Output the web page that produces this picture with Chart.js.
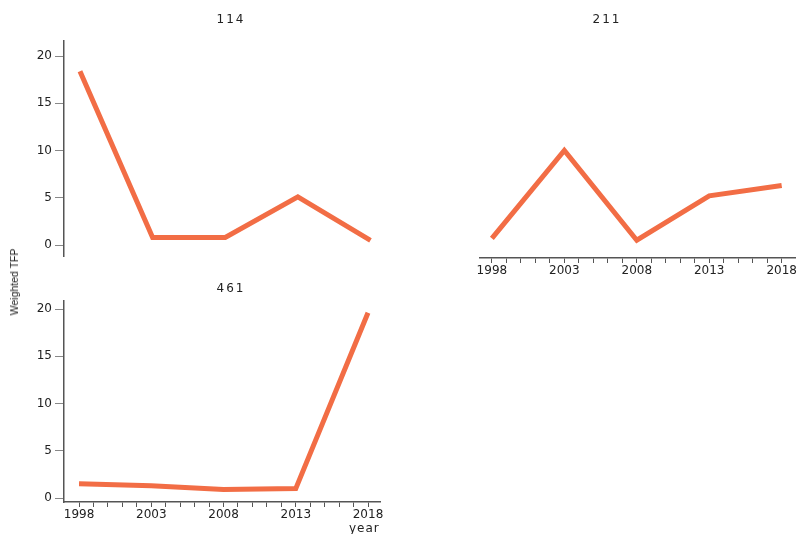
<!DOCTYPE html>
<html>
<head>
<meta charset="utf-8">
<script src="https://cdn.jsdelivr.net/npm/chart.js@4.4.1/dist/chart.umd.min.js"></script>
<style>
  html, body { margin: 0; padding: 0; background: #fff; }
  #wrap { position: relative; width: 798px; height: 534px; overflow: hidden; }
  #wrap canvas { position: absolute; left: 0; top: 0; }
  .lbl { position: absolute; font-family: "DejaVu Sans", sans-serif; color: #222; white-space: nowrap; line-height: 12px; }
  .title { font-size: 12px; letter-spacing: 2px; transform: translateX(-50%); }
  #ylab { font-family: "Liberation Sans", sans-serif; font-size: 10.5px; left: 14px; top: 282px;
          transform: translate(-50%, -50%) rotate(-90deg); }
  #xlab { font-size: 12px; letter-spacing: 1px; left: 349px; top: 522px; }
</style>
</head>
<body>
<div id="wrap">
  <canvas id="c114" width="798" height="534"></canvas>
  <canvas id="c211" width="798" height="534"></canvas>
  <canvas id="c461" width="798" height="534"></canvas>
  <div class="lbl title" style="left:231px; top:13px;">114</div>
  <div class="lbl title" style="left:607px; top:13px;">211</div>
  <div class="lbl title" style="left:231px; top:282px;">461</div>
  <div class="lbl" id="ylab">Weighted TFP</div>
  <div class="lbl" id="xlab">year</div>
</div>
<script>
// years sampled every five years, one series per industry code
const years = [1998, 2003, 2008, 2013, 2018];
const tfp114 = [18.4, 0.8, 0.8, 5.1, 0.5];
const tfp211 = [0.7, 10.0, 0.5, 5.2, 6.3];
const tfp461 = [1.5, 1.3, 0.9, 1.0, 19.6];
const yTicks = [0, 5, 10, 15, 20];
const yearTicks = [];
for (let y = 1998; y <= 2018; y++) yearTicks.push(y);

const lineColor = '#F26D45';
const axisColor = '#555';
const tickFont = { family: 'DejaVu Sans', size: 12 };

function xScale(show, min, max) {
  return {
    type: 'linear', min: min, max: max, display: show,
    afterBuildTicks: s => { s.ticks = yearTicks.map(v => ({ value: v })); },
    afterFit: s => { if (show) s.height = 26; },
    ticks: {
      autoSkip: false, maxRotation: 0, padding: 1, color: '#222', font: tickFont,
      callback: v => ((v - 1998) % 5 === 0 ? String(v) : '')
    },
    grid: { drawOnChartArea: false, drawTicks: true, tickLength: 5, color: axisColor, lineWidth: 1 },
    border: { display: true, color: axisColor, width: 1.5 }
  };
}

function yScale(show, min, max) {
  return {
    type: 'linear', min: min, max: max, display: show,
    afterBuildTicks: s => { s.ticks = yTicks.map(v => ({ value: v })); },
    afterFit: s => { if (show) s.width = 40; },
    ticks: { padding: 3, color: '#222', font: tickFont },
    grid: { drawOnChartArea: false, drawTicks: true, tickLength: 9, color: '#888', lineWidth: 1 },
    border: { display: true, color: axisColor, width: 1.5 }
  };
}

function panel(id, values, pad, x, y) {
  new Chart(document.getElementById(id), {
    type: 'line',
    data: {
      datasets: [{
        data: years.map((yr, i) => ({ x: yr, y: values[i] })),
        borderColor: lineColor,
        borderWidth: 5,
        pointRadius: 0,
        tension: 0,
        fill: false
      }]
    },
    options: {
      responsive: false,
      animation: false,
      layout: { padding: pad },
      plugins: { legend: { display: false }, tooltip: { enabled: false } },
      scales: { x: x, y: y }
    }
  });
}

// top-left: y axis only
panel('c114', tfp114, { left: 24, top: 41, right: 413, bottom: 278 },
  xScale(false, 1996.9, 2019.0), yScale(true, -1.16, 21.59));

// top-right: x axis only
panel('c211', tfp211, { left: 480, top: 41, right: 1, bottom: 250 },
  xScale(true, 1997.18, 2018.96), yScale(false, -1.38, 21.59));

// bottom-left: both axes
panel('c461', tfp461, { left: 24, top: 301, right: 418, bottom: 6 },
  xScale(true, 1996.96, 2018.83), yScale(true, -0.42, 20.85));
</script>
</body>
</html>
